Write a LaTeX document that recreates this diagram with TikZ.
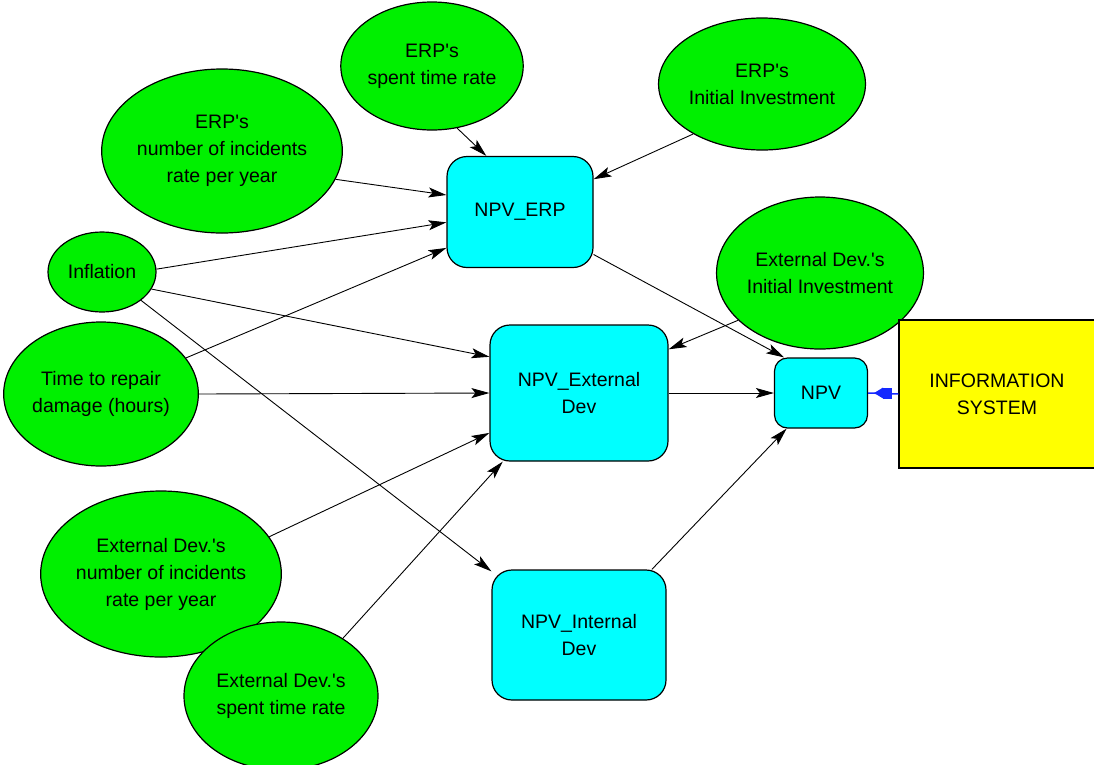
\documentclass[tikz,border=0pt]{standalone}
\usepackage{fontspec}
\setmainfont{Liberation Sans}
\usetikzlibrary{shapes.geometric,arrows.meta,calc}
\definecolor{vargreen}{RGB}{0,240,0}
\definecolor{modcyan}{RGB}{0,255,255}
\definecolor{sysyellow}{RGB}{255,255,0}
\definecolor{linkblue}{RGB}{20,40,255}
\newcommand{\aps}{\textquotesingle}
\tikzset{
  lbl/.style={font=\fontsize{19.5}{27}\selectfont, align=center, text=black},
  var/.style={lbl, ellipse, draw=black, line width=1.2pt, fill=vargreen, inner sep=0pt},
  mod/.style={lbl, rectangle, rounded corners=20pt, draw=black, line width=1.2pt, fill=modcyan, inner sep=0pt},
  sysbox/.style={lbl, rectangle, draw=black, line width=1.2pt, fill=sysyellow, inner sep=0pt},
  link/.style={draw=black, line width=0.9pt, -{Stealth[length=18pt,width=10pt,inset=4pt]}},
}
\begin{document}
\begin{tikzpicture}[x=1pt,y=-1pt]
\useasboundingbox (0,0) rectangle (1094,764);
% variables (ellipses)
\node[var, minimum width=170pt, minimum height=128pt] (espent) at (432,66) {ERP\aps s\\spent time rate};
\node[var, minimum width=194pt, minimum height=132pt] (einv) at (762,84) {ERP\aps s\\Initial Investment};
\node[var, minimum width=220pt, minimum height=164pt] (einc) at (222,151) {ERP\aps s\\number of incidents\\rate per year};
\node[var, minimum width=108pt, minimum height=80pt] (infl) at (102,272) {Inflation};
\node[var, minimum width=188pt, minimum height=144pt] (trep) at (101,394) {Time to repair\\damage (hours)};
\node[var, minimum width=204pt, minimum height=152pt] (xinv) at (820,273) {External Dev.\aps s\\Initial Investment};
\node[var, minimum width=218pt, minimum height=166pt] (xinc) at (161,574) {External Dev.\aps s\\number of incidents\\rate per year};
\node[var, minimum width=194pt, minimum height=148pt] (xspent) at (281,696) {External Dev.\aps s\\spent time rate};
% modules
\node[mod, minimum width=146pt, minimum height=111pt] (nerp) at (520,212) {NPV\_ERP};
\node[mod, minimum width=178pt, minimum height=136pt] (next) at (579,393) {NPV\_External\\Dev};
\node[mod, minimum width=174pt, minimum height=130pt] (nint) at (579,635) {NPV\_Internal\\Dev};
\node[mod, rounded corners=13pt, minimum width=93pt, minimum height=70pt] (npv) at (821,393) {NPV};
\node[sysbox, minimum width=196pt, minimum height=148pt] (is) at (997,394) {INFORMATION\\SYSTEM};
% links
\draw[link] (espent.-68) -- (nerp.121);
\draw[link] (einv.216) -- (nerp.24);
\draw[link] (einc.-14) -- (nerp.167);
\draw[link] (infl.3) -- (nerp.188);
\draw[link] (trep.23) -- (nerp.206);
\draw[link] (infl.-19) -- (next.158);
\draw[link] (infl.-36) -- (nint.144);
\draw[link] (trep.0) -- (next.180);
\draw[link] (xinv.210) -- (next.26);
\draw[link] (xinc.19) -- (next.204);
\draw[link] (xspent.43) -- (next.222);
\draw[link] (nerp.-30) -- (npv.136);
\draw[link] (next.0) -- (npv.180);
\draw[link] (nint.42) -- (npv.226);
% input link from the system box
\draw[linkblue, line width=1.5pt] (is.west) -- (npv.east);
\fill[linkblue] ($(npv.east)+(15,-5.5)$) rectangle ++(9,11);
\fill[linkblue] ($(npv.east)+(15,-5.5)$) -- ++(0,11) -- ($(npv.east)+(6,0)$) -- cycle;
\end{tikzpicture}
\end{document}
